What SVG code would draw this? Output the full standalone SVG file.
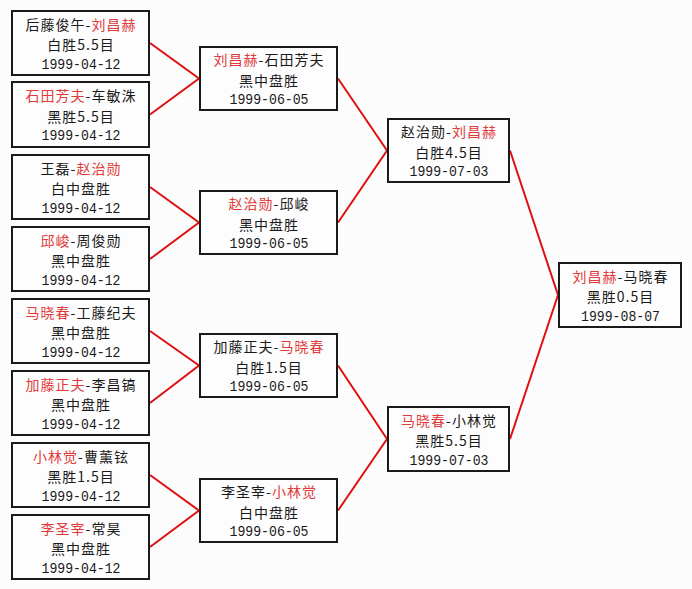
<svg xmlns="http://www.w3.org/2000/svg" width="692" height="589" viewBox="0 0 692 589">
<style>
.bx{fill:#fdfdfd;stroke:#1a1a1a;stroke-width:2}
.t{font-family:"Noto Sans CJK SC","Liberation Sans",sans-serif;font-size:14px;letter-spacing:1px;fill:#1a1a1a;text-anchor:middle}
.d{font-family:"Liberation Mono","DejaVu Sans Mono",monospace;font-size:15px;fill:#1a1a1a;text-anchor:middle}
.r{fill:#e03a3a}
.c{stroke:#e01010;stroke-width:2;fill:none}
</style>
<rect width="692" height="589" fill="#fcfcfc"/>
<g id="connectors">
<path class="c" d="M150,43 L199,78.5 L150,114.5"/>
<path class="c" d="M150,187 L199,222.5 L150,259"/>
<path class="c" d="M150,331 L199,365.5 L150,403"/>
<path class="c" d="M150,475 L199,510.5 L150,547"/>
<path class="c" d="M338,78.5 L387,150.5 L338,222.5"/>
<path class="c" d="M338,365.5 L387,439 L338,510.5"/>
<path class="c" d="M510,150.5 L558,295 L510,439"/>
</g>
<g id="leaf1"><rect class="bx" x="12" y="11" width="137" height="64"/>
<text class="t" x="81" y="29.5">后藤俊午-<tspan class="r">刘昌赫</tspan></text>
<text class="t" x="81" y="50">白胜5.5目</text><text class="d" x="81" y="68.5" textLength="79" lengthAdjust="spacingAndGlyphs">1999-04-12</text></g>
<g id="leaf2"><rect class="bx" x="12" y="82" width="137" height="65"/>
<text class="t" x="81" y="101"><tspan class="r">石田芳夫</tspan>-车敏洙</text>
<text class="t" x="81" y="121.5">黑胜5.5目</text><text class="d" x="81" y="140" textLength="79" lengthAdjust="spacingAndGlyphs">1999-04-12</text></g>
<g id="leaf3"><rect class="bx" x="12" y="155" width="137" height="64"/>
<text class="t" x="81" y="173.5">王磊-<tspan class="r">赵治勋</tspan></text>
<text class="t" x="81" y="194">白中盘胜</text><text class="d" x="81" y="212.5" textLength="79" lengthAdjust="spacingAndGlyphs">1999-04-12</text></g>
<g id="leaf4"><rect class="bx" x="12" y="227" width="137" height="64"/>
<text class="t" x="81" y="245.5"><tspan class="r">邱峻</tspan>-周俊勋</text>
<text class="t" x="81" y="266">黑中盘胜</text><text class="d" x="81" y="284.5" textLength="79" lengthAdjust="spacingAndGlyphs">1999-04-12</text></g>
<g id="leaf5"><rect class="bx" x="12" y="299" width="137" height="64"/>
<text class="t" x="81" y="317.5"><tspan class="r">马晓春</tspan>-工藤纪夫</text>
<text class="t" x="81" y="338">黑中盘胜</text><text class="d" x="81" y="356.5" textLength="79" lengthAdjust="spacingAndGlyphs">1999-04-12</text></g>
<g id="leaf6"><rect class="bx" x="12" y="371" width="137" height="64"/>
<text class="t" x="81" y="389.5"><tspan class="r">加藤正夫</tspan>-李昌镐</text>
<text class="t" x="81" y="410">黑中盘胜</text><text class="d" x="81" y="428.5" textLength="79" lengthAdjust="spacingAndGlyphs">1999-04-12</text></g>
<g id="leaf7"><rect class="bx" x="12" y="443" width="137" height="64"/>
<text class="t" x="81" y="461.5"><tspan class="r">小林觉</tspan>-曹薰铉</text>
<text class="t" x="81" y="482">黑胜1.5目</text><text class="d" x="81" y="500.5" textLength="79" lengthAdjust="spacingAndGlyphs">1999-04-12</text></g>
<g id="leaf8"><rect class="bx" x="12" y="515" width="137" height="64"/>
<text class="t" x="81" y="533.5"><tspan class="r">李圣宰</tspan>-常昊</text>
<text class="t" x="81" y="554">黑中盘胜</text><text class="d" x="81" y="572.5" textLength="79" lengthAdjust="spacingAndGlyphs">1999-04-12</text></g>
<g id="r2a"><rect class="bx" x="200" y="47" width="137" height="63"/>
<text class="t" x="269" y="65"><tspan class="r">刘昌赫</tspan>-石田芳夫</text>
<text class="t" x="269" y="85.5">黑中盘胜</text><text class="d" x="269" y="104" textLength="79" lengthAdjust="spacingAndGlyphs">1999-06-05</text></g>
<g id="r2b"><rect class="bx" x="200" y="191" width="137" height="63"/>
<text class="t" x="269" y="209"><tspan class="r">赵治勋</tspan>-邱峻</text>
<text class="t" x="269" y="229.5">黑中盘胜</text><text class="d" x="269" y="248" textLength="79" lengthAdjust="spacingAndGlyphs">1999-06-05</text></g>
<g id="r2c"><rect class="bx" x="200" y="334" width="137" height="63"/>
<text class="t" x="269" y="352">加藤正夫-<tspan class="r">马晓春</tspan></text>
<text class="t" x="269" y="372.5">白胜1.5目</text><text class="d" x="269" y="391" textLength="79" lengthAdjust="spacingAndGlyphs">1999-06-05</text></g>
<g id="r2d"><rect class="bx" x="200" y="479" width="137" height="63"/>
<text class="t" x="269" y="497">李圣宰-<tspan class="r">小林觉</tspan></text>
<text class="t" x="269" y="517.5">白中盘胜</text><text class="d" x="269" y="536" textLength="79" lengthAdjust="spacingAndGlyphs">1999-06-05</text></g>
<g id="r3a"><rect class="bx" x="388" y="119" width="121" height="63"/>
<text class="t" x="449" y="137">赵治勋-<tspan class="r">刘昌赫</tspan></text>
<text class="t" x="449" y="157.5">白胜4.5目</text><text class="d" x="449" y="176" textLength="79" lengthAdjust="spacingAndGlyphs">1999-07-03</text></g>
<g id="r3b"><rect class="bx" x="388" y="407" width="121" height="64"/>
<text class="t" x="449" y="425.5"><tspan class="r">马晓春</tspan>-小林觉</text>
<text class="t" x="449" y="446">黑胜5.5目</text><text class="d" x="449" y="464.5" textLength="79" lengthAdjust="spacingAndGlyphs">1999-07-03</text></g>
<g id="final"><rect class="bx" x="559" y="263" width="122" height="64"/>
<text class="t" x="620.5" y="281.5"><tspan class="r">刘昌赫</tspan>-马晓春</text>
<text class="t" x="620.5" y="302">黑胜0.5目</text><text class="d" x="620.5" y="320.5" textLength="79" lengthAdjust="spacingAndGlyphs">1999-08-07</text></g>
</svg>
